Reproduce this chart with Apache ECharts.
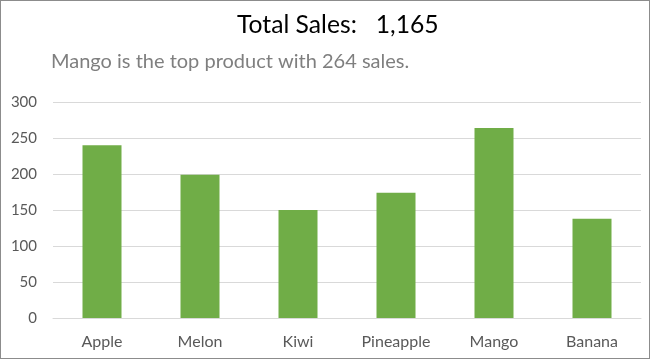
<!DOCTYPE html>
<html><head><meta charset="utf-8">
<script src="https://cdn.jsdelivr.net/npm/echarts@6/dist/echarts.min.js"></script>
<style>
html,body{margin:0;padding:0;background:#fff;}
#c{width:648px;height:357px;border:1px solid #8c8c8c;}
</style></head><body>
<div id="c"></div>
<script>
var categories = ['Apple','Melon','Kiwi','Pineapple','Mango','Banana'];
var sales = [240,199,150,174,264,138];
var yTicks = [0,50,100,150,200,250,300];

var total = sales.reduce(function(a,b){return a+b;},0);
var maxI = 0; sales.forEach(function(v,i){ if(v>sales[maxI]) maxI=i; });
var font = 'Lato, "Open Sans", sans-serif';
var chart = echarts.init(document.getElementById('c'), null, {renderer:'canvas'});
chart.setOption({
  animation:false,
  title:[
    {text:'Total Sales:   ' + total.toLocaleString('en-US'), left:236, top:12, padding:0,
     textStyle:{fontFamily:font, fontSize:24.7, fontWeight:'normal', color:'#000'}},
    {text: categories[maxI] + ' is the top product with ' + sales[maxI] + ' sales.', left:50, top:51, padding:0,
     textStyle:{fontFamily:font, fontSize:20, fontWeight:'normal', color:'#7f7f7f'}}
  ],
  grid:{left:52, right:8, top:101, bottom:40, containLabel:false},
  xAxis:{type:'category', data:categories,
    axisLine:{lineStyle:{color:'#d9d9d9', width:1}}, axisTick:{show:false},
    axisLabel:{color:'#595959', fontFamily:font, fontSize:16, margin:16}},
  yAxis:{type:'value', min:yTicks[0], max:yTicks[yTicks.length-1], interval:50,
    axisLine:{show:false}, axisTick:{show:false},
    splitLine:{lineStyle:{color:'#d9d9d9', width:1}},
    axisLabel:{color:'#595959', fontFamily:font, fontSize:15, margin:16}},
  series:[{type:'bar', data:sales, barWidth:39, itemStyle:{color:'#70ad47'}}]
});
</script></body></html>
